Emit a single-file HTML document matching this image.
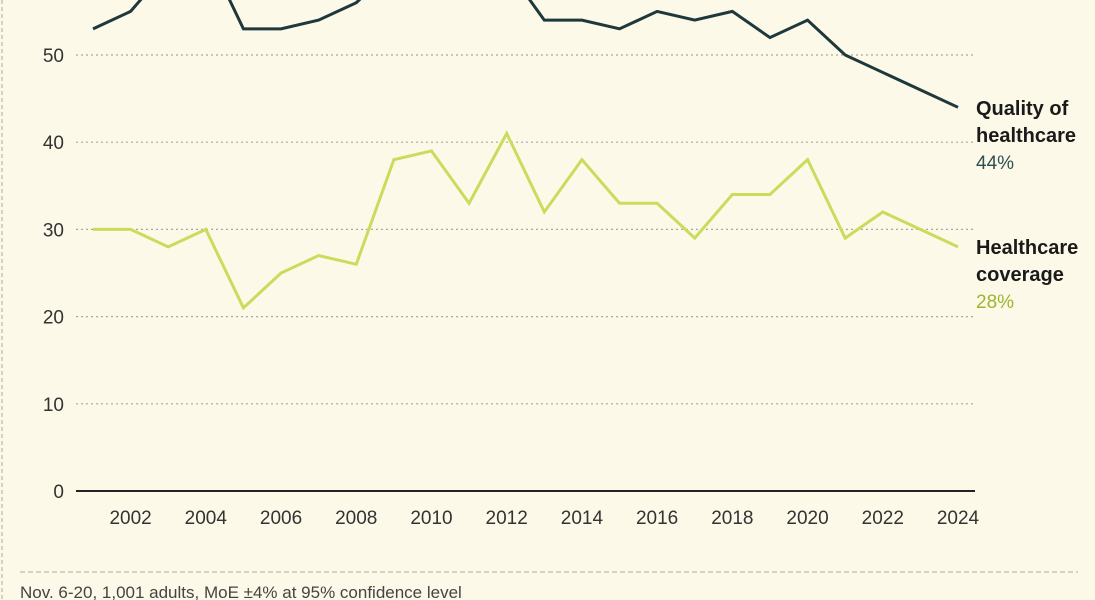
<!DOCTYPE html>
<html><head><meta charset="utf-8">
<style>
html,body{margin:0;padding:0;background:#fcf9e9;}
body{width:1095px;height:600px;overflow:hidden;position:relative;font-family:"Liberation Sans",sans-serif;}
svg{position:absolute;left:0;top:0;}
</style></head>
<body>
<svg id="chart" width="1095" height="600" viewBox="0 0 1095 600">
  <line x1="2" y1="0" x2="2" y2="600" stroke="#c9c6b3" stroke-width="1.5" stroke-dasharray="4,3"/>
  <line x1="20" y1="572" x2="1078" y2="572" stroke="#c9c6b3" stroke-width="1.5" stroke-dasharray="5,3"/>
  <text x="20" y="598" font-size="17" fill="#444">Nov. 6-20, 1,001 adults, MoE ±4% at 95% confidence level</text>
  <g id="grid"></g><g id="axes"></g><g id="series"></g><g id="labels"></g>
</svg>
<script>
const years=[2001,2002,2003,2004,2005,2006,2007,2008,2009,2010,2011,2012,2013,2014,2015,2016,2017,2018,2019,2020,2021,2022,2023,2024];
const qualityValues=[53,55,60,62,53,53,54,56,60,62,61,60,54,54,53,55,54,55,52,54,50,48,46,44];
const coverageValues=[30,30,28,30,21,25,27,26,38,39,33,41,32,38,33,33,29,34,34,38,29,32,30,28];
const yTicks=[0,10,20,30,40,50];
const xTickLabels=[2002,2004,2006,2008,2010,2012,2014,2016,2018,2020,2022,2024];
const NS="http://www.w3.org/2000/svg";
function x(yr){return 93+(yr-2001)*(958-93)/23;}
function y(v){return 491-v*8.72;}
function mk(tag,attrs,parent){const e=document.createElementNS(NS,tag);for(const k in attrs)e.setAttribute(k,attrs[k]);parent.appendChild(e);return e;}
const grid=document.getElementById('grid'),axes=document.getElementById('axes'),series=document.getElementById('series'),labels=document.getElementById('labels');
yTicks.forEach(t=>{
  if(t>0){const l=mk('line',{x1:76,x2:975,y1:y(t),y2:y(t),stroke:'#aaa79a','stroke-width':1.2,'stroke-dasharray':'2,3'},grid);
  
  }
  const tx=mk('text',{x:64,y:y(t)+7,'text-anchor':'end','font-size':19,fill:'#333'},axes);
  tx.textContent=t;
  
  
});
const base=mk('line',{x1:76,x2:975,y1:y(0),y2:y(0),stroke:'#222','stroke-width':2},axes);


xTickLabels.forEach(t=>{
  const tx=mk('text',{x:x(t),y:524,'text-anchor':'middle','font-size':19,fill:'#333'},axes);
  tx.textContent=t;
  
  
});
function line(vals,color,name){
  const p=mk('polyline',{points:vals.map((v,i)=>x(years[i])+','+y(v)).join(' '),fill:'none',stroke:color,'stroke-width':3,'stroke-linejoin':'miter'},series);
  
  
}
line(coverageValues,'#cadc5c','healthcare-coverage-line');
line(qualityValues,'#1e383b','quality-of-healthcare-line');
function label(lines,val,color,yy,name){
  const g=mk('g',{},labels);
  
  
  lines.forEach((s,i)=>{const t=mk('text',{x:976,y:yy+i*27,'font-size':20,'font-weight':'bold',fill:'#1a1a1a','font-family':'"Liberation Sans Narrow","Liberation Sans",sans-serif'},g);t.textContent=s;});
  const t=mk('text',{x:976,y:yy+lines.length*27,'font-size':19,fill:color},g);t.textContent=val+'%';
}
label(['Quality of','healthcare'],qualityValues[qualityValues.length-1],'#2f4f52',115,'quality-label');
label(['Healthcare','coverage'],coverageValues[coverageValues.length-1],'#9db52e',254,'coverage-label');
</script>
</body></html>
